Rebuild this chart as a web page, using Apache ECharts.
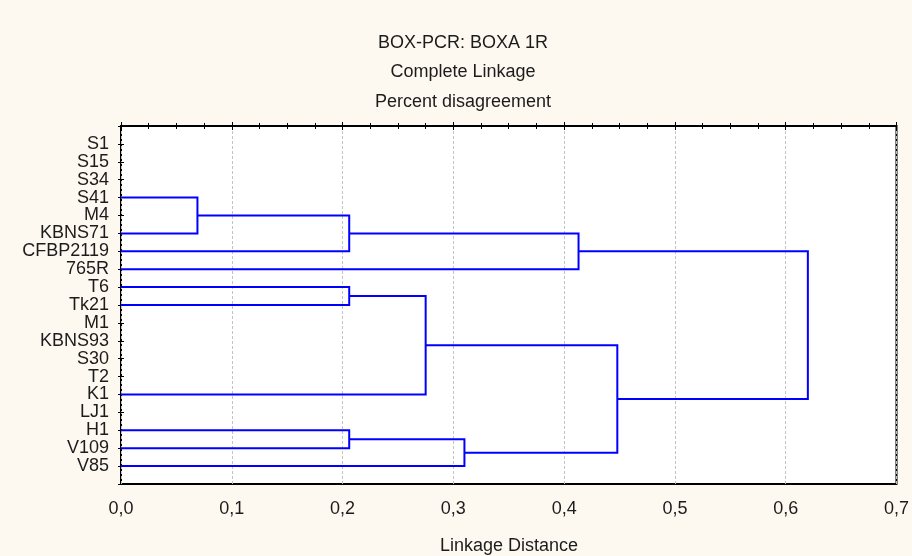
<!DOCTYPE html>
<html>
<head>
<meta charset="utf-8">
<title>BOX-PCR: BOXA 1R</title>
<script src="https://cdn.jsdelivr.net/npm/echarts@6/dist/echarts.min.js"></script>
<style>
  html, body { margin: 0; padding: 0; background: #fdf9f0; }
  #chart { width: 912px; height: 556px; }
</style>
</head>
<body>
<div id="chart"></div>
<script>
// Leaves of the tree, top to bottom
const leaves = ['S1', 'S15', 'S34', 'S41', 'M4', 'KBNS71', 'CFBP2119', '765R', 'T6', 'Tk21',
  'M1', 'KBNS93', 'S30', 'T2', 'K1', 'LJ1', 'H1', 'V109', 'V85'];

// Agglomeration steps: cluster "cN" is the result of step N
const mergeLeft = ['S1', 'c0', 'c1', 'M4', 'c2', 'c4', 'c5', 'T6', 'M1', 'c8', 'c9', 'c10',
  'c7', 'LJ1', 'c13', 'c14', 'c12', 'c6'];
const mergeRight = ['S15', 'S34', 'S41', 'KBNS71', 'c3', 'CFBP2119', '765R', 'Tk21', 'KBNS93',
  'S30', 'T2', 'K1', 'c11', 'H1', 'V109', 'V85', 'c15', 'c16'];
const mergeHeight = [0, 0, 0, 0, 0.069, 0.206, 0.413, 0.206, 0, 0, 0, 0, 0.275, 0, 0.206,
  0.31, 0.448, 0.62];

// Distance axis tick labels
const xTickLabels = ['0,0', '0,1', '0,2', '0,3', '0,4', '0,5', '0,6', '0,7'];

const titleLines = ['BOX-PCR: BOXA 1R', 'Complete Linkage', 'Percent disagreement'];
const xAxisTitle = 'Linkage Distance';

// Resolve node positions (row on the leaf axis, height on the distance axis)
const nodes = {};
leaves.forEach((name, i) => { nodes[name] = { h: 0, y: i + 1 }; });
const links = [];
mergeHeight.forEach((h, i) => {
  const a = nodes[mergeLeft[i]];
  const b = nodes[mergeRight[i]];
  const y = h === 0 ? Math.max(a.y, b.y) : (a.y + b.y) / 2;
  nodes['c' + i] = { h: h, y: y };
  if (h > 0) {
    links.push({ coords: [[a.h, a.y], [h, a.y], [h, b.y], [b.h, b.y]] });
  }
});

const FONT = 'Liberation Sans, Arial, sans-serif';
const FS = 18;
const TXT = '#1c1c1c';

const chart = echarts.init(document.getElementById('chart'), null, { renderer: 'canvas' });

const titleGraphics = titleLines.map((t, i) => ({
  type: 'text',
  x: 463,
  y: 43 + i * 29.3,
  style: {
    text: t,
    fill: TXT,
    font: FS + 'px ' + FONT,
    textAlign: 'center',
    textVerticalAlign: 'middle'
  }
}));

chart.setOption({
  backgroundColor: '#fdf9f0',
  animation: false,
  graphic: titleGraphics.concat([{
    type: 'text',
    x: 509,
    y: 546,
    style: {
      text: xAxisTitle,
      fill: TXT,
      font: FS + 'px ' + FONT,
      textAlign: 'center',
      textVerticalAlign: 'middle'
    }
  }]),
  grid: {
    left: 121, right: 15, top: 126, bottom: 72,
    show: true,
    backgroundColor: '#ffffff',
    borderColor: '#000000',
    borderWidth: 2
  },
  xAxis: [{
    type: 'value',
    position: 'bottom',
    min: 0, max: 0.7, interval: 0.1,
    axisLine: { show: false },
    axisTick: { show: true, inside: true, length: 4, lineStyle: { color: '#000', width: 1 } },
    minorTick: { show: true, splitNumber: 4, length: 3, lineStyle: { color: '#000', width: 1 } },
    axisLabel: {
      margin: 16,
      color: TXT,
      fontFamily: FONT,
      fontSize: FS,
      formatter: (v) => xTickLabels[Math.round(v * 10)]
    },
    splitLine: { show: true, lineStyle: { color: '#c4c4c4', width: 1, type: [3, 2] } }
  }, {
    type: 'value',
    position: 'top',
    min: 0, max: 0.7, interval: 0.1,
    axisLine: { show: false },
    axisTick: { show: true, inside: true, length: 4, lineStyle: { color: '#000', width: 1 } },
    minorTick: { show: true, splitNumber: 4, length: 3, lineStyle: { color: '#000', width: 1 } },
    axisLabel: { show: false },
    splitLine: { show: false }
  }],
  yAxis: [{
    type: 'value',
    position: 'left',
    inverse: true,
    min: 0, max: leaves.length + 1, interval: 1,
    axisLine: { show: false },
    axisTick: { show: true, inside: true, length: 3, lineStyle: { color: '#000', width: 1 } },
    axisLabel: {
      margin: 12,
      color: TXT,
      fontFamily: FONT,
      fontSize: FS,
      formatter: v => (v >= 1 && v <= leaves.length ? leaves[v - 1] : '')
    },
    splitLine: { show: false }
  }, {
    type: 'value',
    position: 'right',
    inverse: true,
    min: 0, max: leaves.length + 1, interval: 1,
    axisLine: { show: false },
    axisTick: { show: true, inside: true, length: 3, lineStyle: { color: '#000', width: 1 } },
    axisLabel: { show: false },
    splitLine: { show: false }
  }],
  series: [{
    type: 'lines',
    coordinateSystem: 'cartesian2d',
    xAxisIndex: 0,
    yAxisIndex: 0,
    polyline: true,
    silent: true,
    lineStyle: { color: '#0000ff', width: 2, opacity: 1 },
    data: links
  }]
});
</script>
</body>
</html>
